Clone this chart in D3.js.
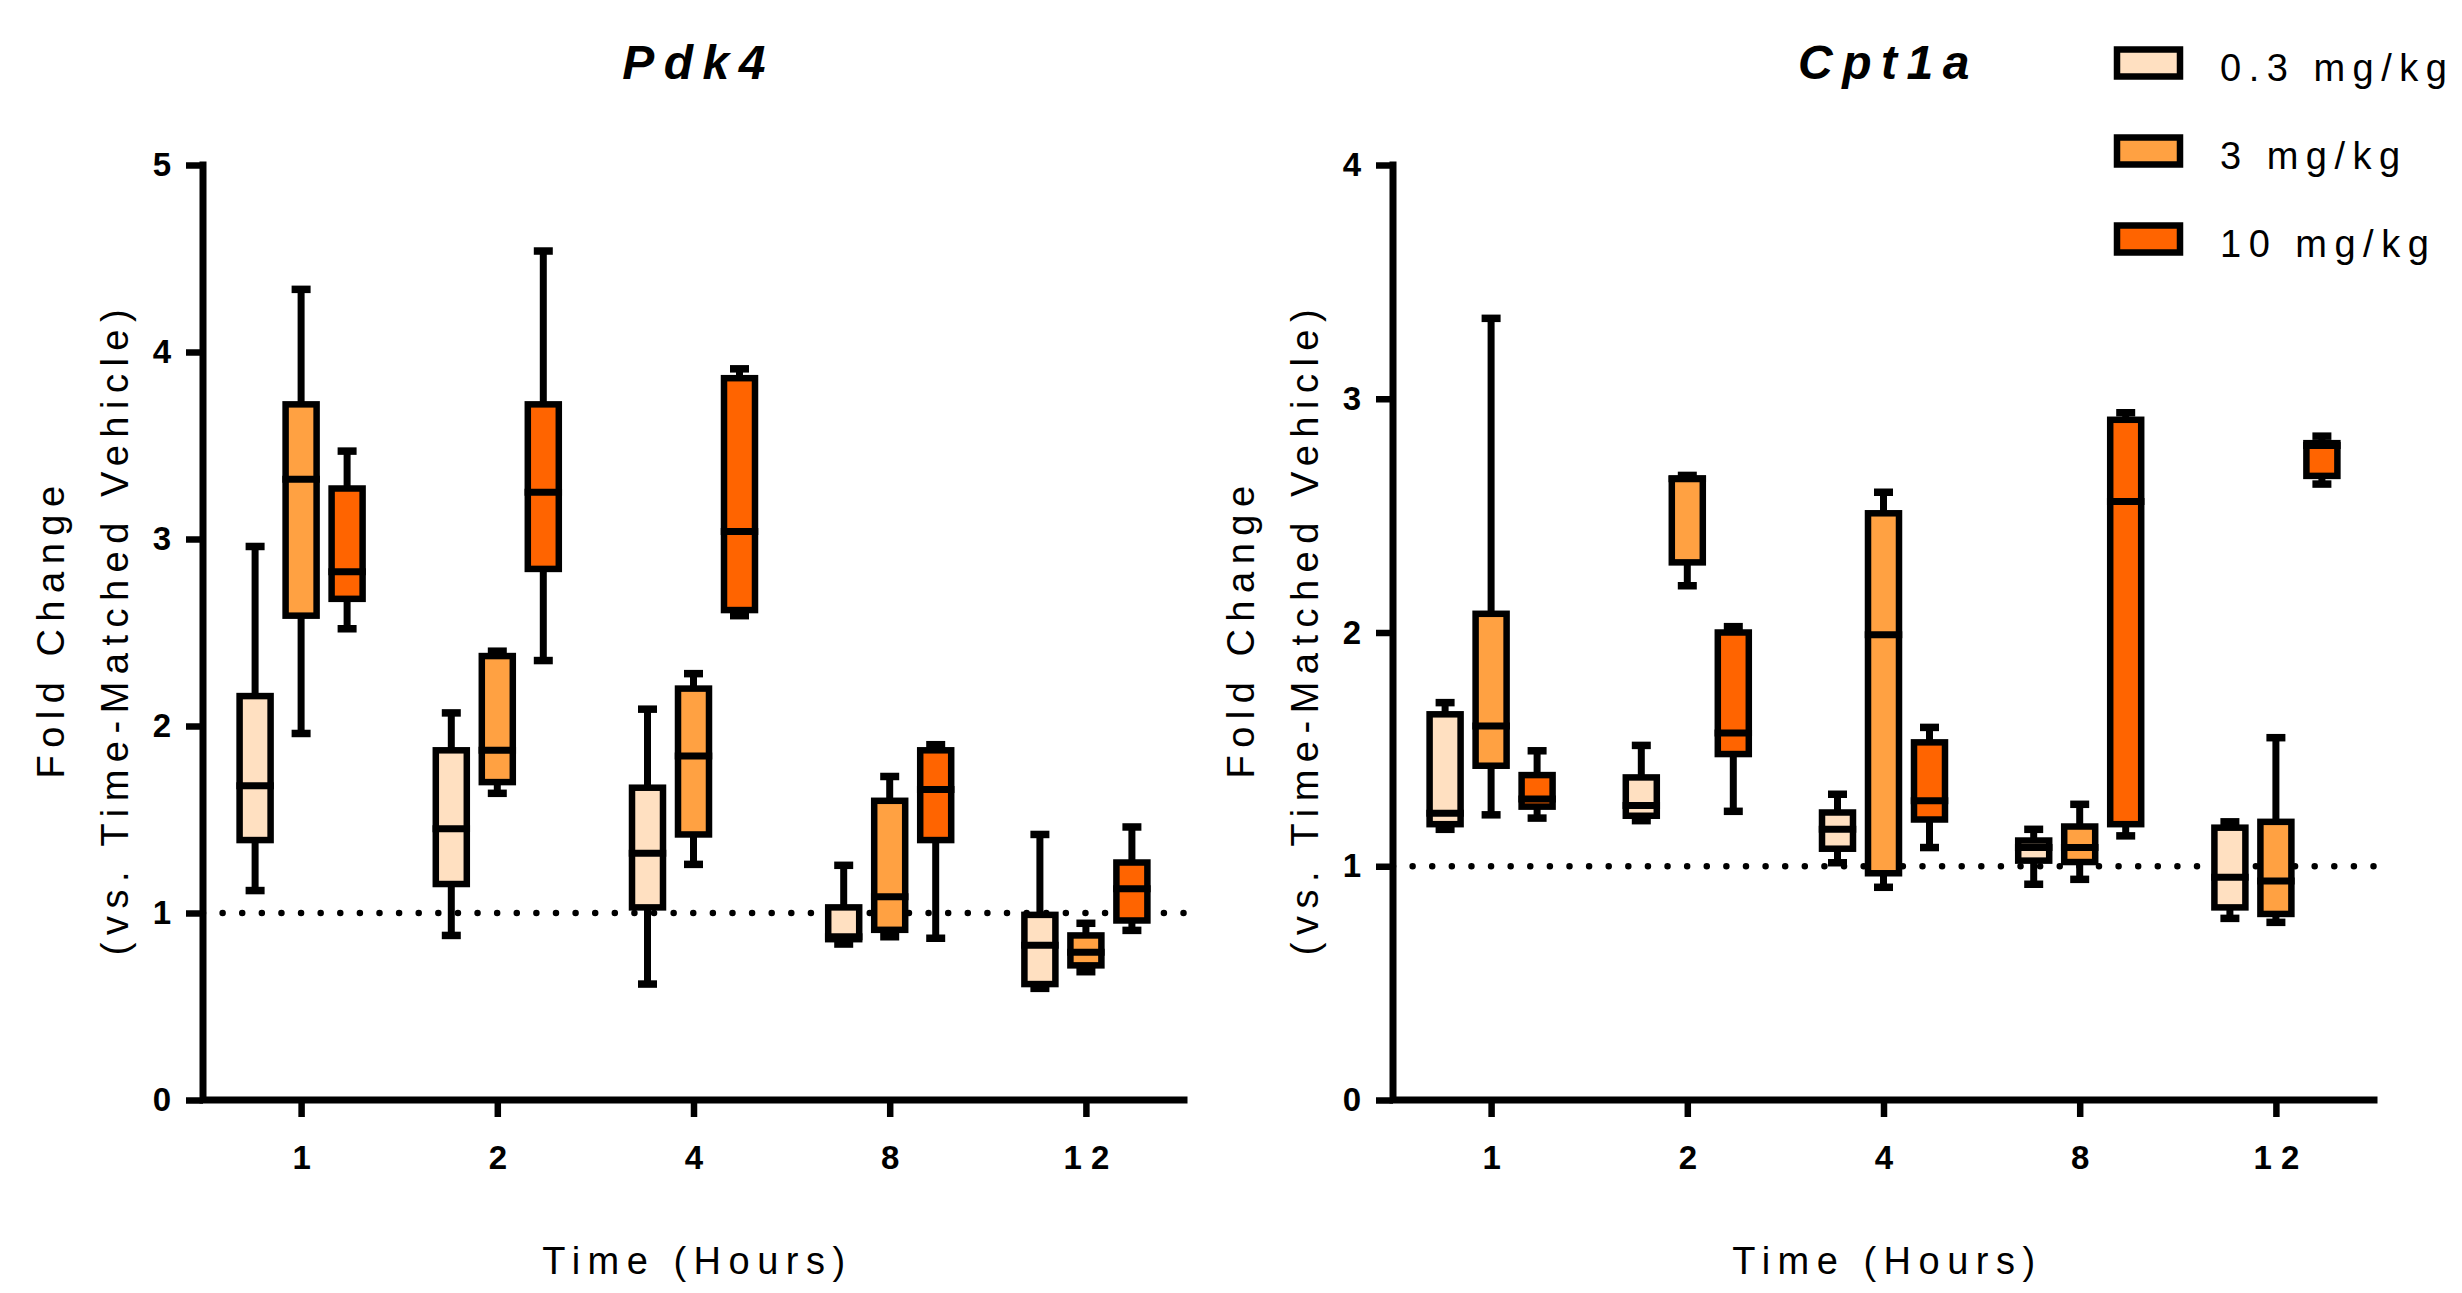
<!DOCTYPE html>
<html>
<head>
<meta charset="utf-8">
<script src="https://cdn.jsdelivr.net/npm/d3@7"></script>
<style>
  html, body { margin: 0; padding: 0; background: #ffffff; }
  svg { display: block; }
</style>
</head>
<body>
<svg id="chart" width="2462" height="1293"></svg>
<script>
// ---------------- DATA ----------------
const timeLabels = ["1", "2", "4", "8", "12"];
const doseLabels = ["0.3 mg/kg", "3 mg/kg", "10 mg/kg"];
const doseColors = ["#FFE0C1", "#FFA142", "#FF6400"];

// each entry: [min, Q1, median, Q3, max] per time point
const pdk4Dose03 = [[1.12, 1.39, 1.68, 2.16, 2.96], [0.88, 1.155, 1.45, 1.87, 2.07], [0.62, 1.03, 1.32, 1.67, 2.09], [0.834, 0.86, 0.873, 1.03, 1.255], [0.597, 0.62, 0.827, 0.99, 1.42]];
const pdk4Dose3  = [[1.96, 2.59, 3.32, 3.72, 4.335], [1.64, 1.70, 1.87, 2.374, 2.40], [1.26, 1.42, 1.84, 2.20, 2.28], [0.873, 0.91, 1.087, 1.60, 1.73], [0.686, 0.72, 0.79, 0.88, 0.945]];
const pdk4Dose10 = [[2.52, 2.68, 2.825, 3.27, 3.47], [2.35, 2.84, 3.25, 3.72, 4.54], [2.59, 2.62, 3.04, 3.86, 3.91], [0.865, 1.39, 1.66, 1.87, 1.90], [0.907, 0.96, 1.13, 1.27, 1.46]];

const cpt1aDose03 = [[1.158, 1.18, 1.227, 1.65, 1.70], [1.195, 1.216, 1.26, 1.38, 1.517], [1.015, 1.075, 1.158, 1.23, 1.308], [0.923, 1.024, 1.08, 1.11, 1.158], [0.777, 0.824, 0.953, 1.165, 1.19]];
const cpt1aDose3  = [[1.22, 1.43, 1.60, 2.08, 3.344], [2.20, 2.30, 2.658, 2.658, 2.672], [0.91, 0.97, 1.99, 2.51, 2.60], [0.944, 1.018, 1.08, 1.17, 1.265], [0.76, 0.796, 0.937, 1.19, 1.55]];
const cpt1aDose10 = [[1.206, 1.255, 1.288, 1.39, 1.494], [1.235, 1.48, 1.57, 2.00, 2.025], [1.08, 1.20, 1.28, 1.53, 1.594], [1.13, 1.18, 2.56, 2.91, 2.94], [2.635, 2.67, 2.80, 2.81, 2.84]];

const pdk4Ticks = [0, 1, 2, 3, 4, 5];
const cpt1aTicks = [0, 1, 2, 3, 4];
const referenceValue = 1;

const xTitle = "Time (Hours)";
const yTitleLine1 = "Fold Change";
const yTitleLine2 = "(vs. Time-Matched Vehicle)";

// ---------------- LAYOUT ----------------
const FONT = "'Liberation Sans', Arial, Helvetica, sans-serif";
const svg = d3.select("#chart");
const yTop = 165, yBottom = 1100;

const panels = [
  { title: "Pdk4", series: [pdk4Dose03, pdk4Dose3, pdk4Dose10], ticks: pdk4Ticks, x0: 203, x1: 1184 },
  { title: "Cpt1a", series: [cpt1aDose03, cpt1aDose3, cpt1aDose10], ticks: cpt1aTicks, x0: 1393, x1: 2374 }
];

const boxOffset = 46, boxW = 31, capW = 19;

panels.forEach(p => {
  const g = svg.append("g");
  const x = d3.scalePoint().domain(timeLabels).range([p.x0, p.x1]).padding(0.5);
  const y = d3.scaleLinear().domain([0, d3.max(p.ticks)]).range([yBottom, yTop]);

  // reference dotted line
  g.append("line")
    .attr("x1", p.x0).attr("x2", p.x1)
    .attr("y1", y(referenceValue)).attr("y2", y(referenceValue))
    .attr("stroke", "#000").attr("stroke-width", 6.5)
    .attr("stroke-linecap", "round").attr("stroke-dasharray", "0.01 19.6");

  // boxes
  p.series.forEach((ser, si) => {
    const sg = g.append("g");
    ser.forEach((d, ti) => {
      const cx = x(timeLabels[ti]) + (si - 1) * boxOffset;
      const [mn, q1, md, q3, mx] = d;
      // whiskers
      sg.append("line").attr("x1", cx).attr("x2", cx).attr("y1", y(q3)).attr("y2", y(mx))
        .attr("stroke", "#000").attr("stroke-width", 7);
      sg.append("line").attr("x1", cx).attr("x2", cx).attr("y1", y(q1)).attr("y2", y(mn))
        .attr("stroke", "#000").attr("stroke-width", 7);
      // caps
      [mn, mx].forEach(v => {
        sg.append("line").attr("x1", cx - capW / 2).attr("x2", cx + capW / 2)
          .attr("y1", y(v)).attr("y2", y(v))
          .attr("stroke", "#000").attr("stroke-width", 7.5);
      });
      // box
      sg.append("rect").attr("x", cx - boxW / 2).attr("width", boxW)
        .attr("y", y(q3)).attr("height", Math.max(0.1, y(q1) - y(q3)))
        .attr("fill", doseColors[si]).attr("stroke", "#000").attr("stroke-width", 6.5);
      // median
      sg.append("line").attr("x1", cx - boxW / 2 - 3.25).attr("x2", cx + boxW / 2 + 3.25)
        .attr("y1", y(md)).attr("y2", y(md))
        .attr("stroke", "#000").attr("stroke-width", 7);
    });
  });

  // axes
  const yAxis = d3.axisLeft(y).tickValues(p.ticks).tickFormat(d3.format("d"))
    .tickSize(17).tickSizeOuter(0).tickPadding(15);
  const ya = g.append("g").attr("transform", `translate(${p.x0},0)`).call(yAxis);
  const xAxis = d3.axisBottom(x).tickSize(17).tickSizeOuter(0).tickPadding(29);
  const xa = g.append("g").attr("transform", `translate(0,${yBottom})`).call(xAxis);
  [ya, xa].forEach(a => {
    a.select(".domain").remove();
    a.selectAll(".tick line").attr("stroke", "#000").attr("stroke-width", 6.5);
    a.selectAll(".tick text").attr("fill", "#000")
      .style("font-family", FONT).style("font-weight", "bold").style("font-size", "33px");
  });
  xa.selectAll(".tick text").style("letter-spacing", "9px").attr("dx", "4.5px");

  // axis lines
  g.append("path").attr("d", d3.line()([[p.x0, yTop], [p.x0, yBottom], [p.x1, yBottom]]))
    .attr("fill", "none").attr("stroke", "#000").attr("stroke-width", 7)
    .attr("stroke-linecap", "square").attr("stroke-linejoin", "miter");

  // titles
  const cxPlot = (p.x0 + p.x1) / 2;
  g.append("text").attr("x", cxPlot + 5).attr("y", 79).attr("text-anchor", "middle")
    .style("font-family", FONT).style("font-weight", "bold").style("font-style", "italic")
    .style("font-size", "48px").style("letter-spacing", "9.5px").text(p.title);

  g.append("text").attr("x", cxPlot + 4).attr("y", 1274).attr("text-anchor", "middle")
    .style("font-family", FONT).style("font-size", "38px").style("letter-spacing", "7.5px")
    .text(xTitle);

  const cyPlot = (yTop + yBottom) / 2;
  [[yTitleLine1, 139], [yTitleLine2, 75]].forEach(([t, off]) => {
    g.append("text")
      .attr("transform", `translate(${p.x0 - off},${cyPlot}) rotate(-90)`)
      .attr("text-anchor", "middle").attr("x", 4)
      .style("font-family", FONT).style("font-size", "38px").style("letter-spacing", "7.5px")
      .text(t);
  });
});

// legend
const legend = svg.append("g");
const legendY = d3.scalePoint().domain(doseLabels).range([63, 239]);
doseLabels.forEach((lab, i) => {
  const cy = legendY(lab);
  legend.append("rect").attr("x", 2117).attr("y", cy - 13.5).attr("width", 63).attr("height", 27)
    .attr("fill", doseColors[i]).attr("stroke", "#000").attr("stroke-width", 6.5);
  legend.append("text").attr("x", 2220).attr("y", cy + 18)
    .style("font-family", FONT).style("font-size", "38px").style("letter-spacing", "7.5px")
    .text(lab);
});
</script>
</body>
</html>
